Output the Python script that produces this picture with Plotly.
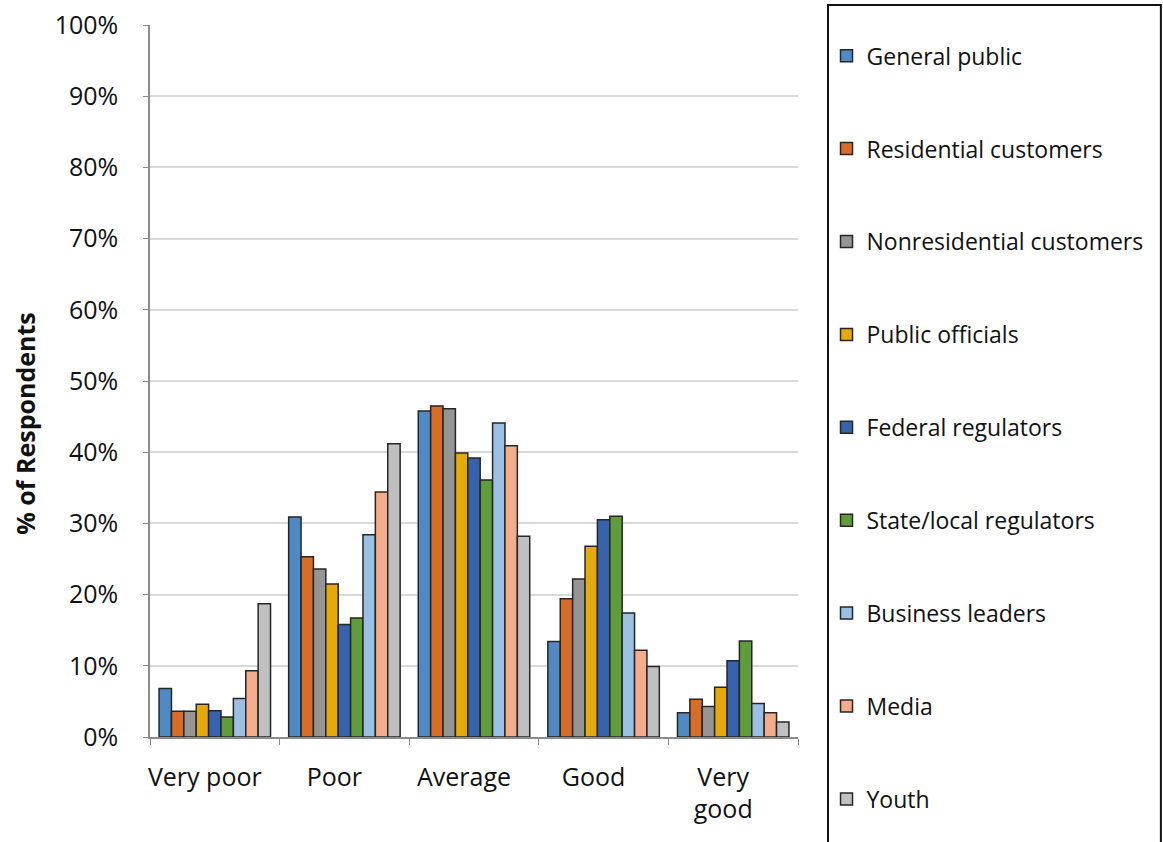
import plotly.graph_objects as go

categories = ["Very poor", "Poor", "Average", "Good", "Very good"]
tick_labels = ["Very poor", "Poor", "Average", "Good", "Very<br>good"]

groups = [
    "General public",
    "Residential customers",
    "Nonresidential customers",
    "Public officials",
    "Federal regulators",
    "State/local regulators",
    "Business leaders",
    "Media",
    "Youth",
]

general_public = [6.8, 30.9, 45.8, 13.4, 3.4]
residential_customers = [3.6, 25.3, 46.5, 19.4, 5.3]
nonresidential_customers = [3.6, 23.6, 46.1, 22.2, 4.3]
public_officials = [4.6, 21.5, 39.9, 26.8, 7.0]
federal_regulators = [3.7, 15.8, 39.2, 30.5, 10.7]
state_local_regulators = [2.8, 16.7, 36.1, 31.0, 13.5]
business_leaders = [5.4, 28.4, 44.1, 17.4, 4.7]
media = [9.3, 34.4, 40.9, 12.2, 3.4]
youth = [18.7, 41.2, 28.2, 9.9, 2.1]

series = [
    general_public,
    residential_customers,
    nonresidential_customers,
    public_officials,
    federal_regulators,
    state_local_regulators,
    business_leaders,
    media,
    youth,
]

colors = [
    "#4F8AC5",
    "#D86D28",
    "#959595",
    "#E6A90A",
    "#3762AD",
    "#5F9C3B",
    "#9BC0E5",
    "#F3AC8C",
    "#C0C0C0",
]

FONT = "'Open Sans', Lato, sans-serif"

fig = go.Figure()
for name, vals, col in zip(groups, series, colors):
    fig.add_trace(
        go.Bar(
            x=categories,
            y=[v / 100 for v in vals],
            name=name,
            legendgroup=name,
            marker=dict(color=col, line=dict(color="#262626", width=1.5)),
        )
    )

fig.update_layout(
    width=1163,
    height=842,
    margin=dict(l=150, r=365, t=25, b=105, autoexpand=False),
    paper_bgcolor="white",
    plot_bgcolor="white",
    barmode="group",
    bargap=0.14,
    bargroupgap=0,
    font=dict(family=FONT, size=22, color="#111111"),
    showlegend=True,
    legend=dict(
        x=1.044,
        y=0.987,
        xanchor="left",
        yanchor="top",
        traceorder="grouped",
        tracegroupgap=60,
        maxheight=900,
        font=dict(family=FONT, size=23, color="#111111"),
        bgcolor="rgba(0,0,0,0)",
        borderwidth=0,
    ),
    xaxis=dict(
        type="category",
        tickmode="array",
        tickvals=categories,
        ticktext=tick_labels,
        tickson="boundaries",
        ticks="outside",
        ticklen=6,
        tickcolor="#8C8C8C",
        showline=True,
        linecolor="#8C8C8C",
        linewidth=1.5,
        showgrid=False,
        tickfont=dict(family=FONT, size=25, color="#111111"),
        ticklabelstandoff=17,
        ticklabelshift=-10,
    ),
    yaxis=dict(
        range=[0, 1],
        dtick=0.1,
        tickformat=".0%",
        showline=True,
        linecolor="#8C8C8C",
        linewidth=1.5,
        ticks="outside",
        ticklen=5,
        tickcolor="#8C8C8C",
        showgrid=True,
        gridcolor="#D9D9D9",
        gridwidth=1.5,
        zeroline=False,
        tickfont=dict(family=FONT, size=25, color="#111111"),
        ticklabelstandoff=20,
    ),
    annotations=[
        dict(
            text="<b>% of Respondents</b>",
            textangle=-90,
            xref="paper",
            yref="paper",
            x=-0.193,
            y=0.44,
            xanchor="center",
            yanchor="middle",
            showarrow=False,
            font=dict(family=FONT, size=25, color="#111111"),
        )
    ],
    shapes=[
        dict(
            type="rect",
            xref="paper",
            yref="paper",
            x0=1.0463,
            x1=1.56,
            y0=-0.16,
            y1=1.028,
            line=dict(color="#111111", width=2),
            fillcolor="rgba(0,0,0,0)",
            layer="above",
        )
    ],
)

fig.write_html("out.html")
